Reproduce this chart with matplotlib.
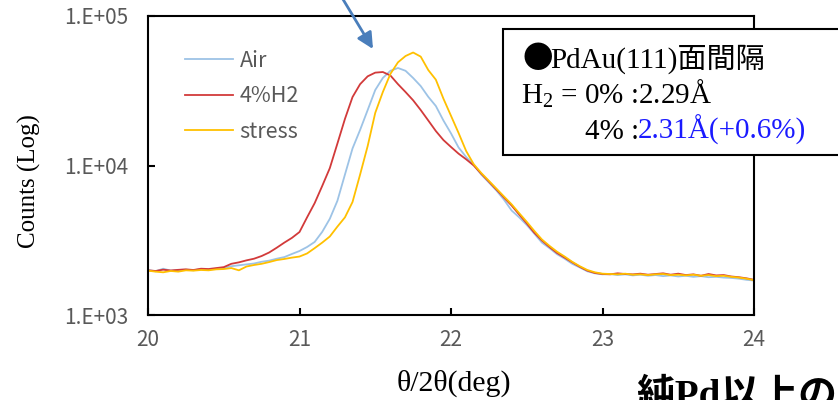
import numpy as np
import matplotlib
matplotlib.use("Agg")
import matplotlib.pyplot as plt
from matplotlib.patches import Rectangle

# ---------------- data ----------------
theta = np.round(np.arange(20.0, 24.0001, 0.05), 2)

air = [2000, 1960, 2040, 1980, 2000, 2010, 1990, 2030, 2010, 2040,
       2060, 2120, 2150, 2180, 2210, 2270, 2310, 2380, 2440, 2560,
       2680, 2850, 3080, 3600, 4400, 5800, 8700, 13000, 17300, 23500,
       32000, 38500, 43000, 44900, 43000, 38500, 34000, 28800, 25000, 20000,
       16400, 13200, 11400, 10100, 8700, 7700, 6800, 5900, 5000, 4500,
       4000, 3500, 3050, 2800, 2550, 2380, 2200, 2080, 1960, 1900,
       1870, 1880, 1850, 1870, 1840, 1860, 1830, 1850, 1820, 1840,
       1810, 1830, 1800, 1820, 1790, 1800, 1780, 1770, 1750, 1720,
       1700]

h2_4 = [1990, 1970, 2010, 1985, 2005, 2020, 2000, 2040, 2030, 2060,
        2090, 2200, 2250, 2320, 2380, 2480, 2620, 2820, 3050, 3280,
        3590, 4500, 5600, 7300, 9600, 14000, 20500, 28700, 35000, 39500,
        41800, 42200, 40000, 35000, 31000, 27300, 23500, 20000, 17000, 14800,
        13300, 12000, 11000, 10000, 8800, 7800, 6900, 6100, 5400, 4700,
        4100, 3550, 3150, 2850, 2600, 2420, 2250, 2100, 1980, 1910,
        1880, 1870, 1900, 1880, 1870, 1890, 1860, 1880, 1900, 1860,
        1890, 1850, 1870, 1830, 1880, 1840, 1850, 1810, 1790, 1760,
        1720]

stress = [1980, 1950, 1930, 1970, 1950, 1990, 1980, 2000, 1990, 2020,
          2030, 2060, 1990, 2110, 2160, 2200, 2260, 2330, 2370, 2420,
          2460, 2580, 2800, 3050, 3350, 3900, 4500, 5700, 8700, 13500,
          22500, 31000, 41000, 49000, 54000, 57000, 53500, 43500, 37500, 28000,
          21500, 16500, 12500, 10200, 8900, 7900, 7000, 6200, 5500, 4800,
          4200, 3650, 3200, 2900, 2650, 2460, 2270, 2120, 2000, 1930,
          1890, 1880, 1870, 1890, 1860, 1870, 1850, 1870, 1880, 1850,
          1860, 1840, 1860, 1830, 1850, 1820, 1830, 1800, 1780, 1750,
          1710]

series_names = ["Air", "4%H2", "stress"]
series_colors = ["#9dc3e6", "#d23a3a", "#ffc000"]

x_ticks = [20, 21, 22, 23, 24]
y_ticks = [1e3, 1e4, 1e5]
y_tick_labels = ["1.E+03", "1.E+04", "1.E+05"]

# ---------------- figure ----------------
W, H = 838, 400
fig = plt.figure(figsize=(W / 100, H / 100), dpi=100)
ax = fig.add_axes([148 / W, 1 - 315 / H, (754 - 148) / W, (315 - 16) / H])

for vals, name, col in zip([air, h2_4, stress], series_names, series_colors):
    ax.plot(theta, vals, color=col, lw=1.3, label=name)

ax.set_yscale("log")
ax.set_xlim(20, 24)
ax.set_ylim(1e3, 1e5)
ax.set_xticks(x_ticks)
ax.set_xticklabels([str(v) for v in x_ticks])
ax.set_yticks(y_ticks)
ax.set_yticklabels(y_tick_labels)
ax.yaxis.set_minor_locator(matplotlib.ticker.NullLocator())

tick_font = ["Noto Sans CJK JP", "DejaVu Sans"]
ax.tick_params(direction="in", length=5, width=1.5, colors="black",
               labelcolor="#595959", labelsize=15)
ax.tick_params(axis="x", pad=10)
ax.tick_params(axis="y", pad=14)
for lab in ax.get_xticklabels() + ax.get_yticklabels():
    lab.set_family(tick_font)

for sp in ax.spines.values():
    sp.set_linewidth(1.5)
    sp.set_color("black")

ax.set_ylabel("Counts (Log)", family="Liberation Serif", fontsize=18, va="center")
ax.yaxis.set_label_coords(-0.195, 0.448)
ax.set_xlabel("θ/2θ(deg)", family="Liberation Serif", fontsize=21.5, va="center")
ax.xaxis.set_label_coords(0.505, -0.227)

leg = ax.legend(loc="upper left", bbox_to_anchor=(185 / W, 1 - 50 / H),
                bbox_transform=fig.transFigure, frameon=False,
                prop={"family": tick_font, "size": 15.5},
                handlelength=2.23, handletextpad=0.3, labelspacing=0.62,
                borderpad=0, borderaxespad=0)
for t in leg.get_texts():
    t.set_color("#595959")

# ---------------- annotation box ----------------
def fx(px):
    return px / W

def fy(py):
    return 1 - py / H

box = Rectangle((fx(503), fy(155)), fx(860) - fx(503), fy(29) - fy(155),
                transform=fig.transFigure, facecolor="white",
                edgecolor="black", lw=1.5, zorder=10, clip_on=False)
fig.patches.append(box)

serif = ["Liberation Serif", "Noto Sans CJK JP"]
fs_box = 21
fig.text(fx(522), fy(68), "●", family=["Noto Sans CJK JP"], fontsize=fs_box + 1,
         color="black", zorder=11, va="baseline")
fig.text(fx(550), fy(68), "PdAu(111)面間隔", family=serif, fontsize=fs_box,
         color="black", zorder=11, va="baseline")
fig.text(fx(521), fy(104), r"$\mathregular{H_2}$ = 0% :2.29Å", family=serif,
         fontsize=fs_box, color="black", zorder=11, va="baseline")
fig.text(fx(585), fy(139), "4% :", family=serif, fontsize=fs_box,
         color="black", zorder=11, va="baseline")
fig.text(fx(638), fy(139), "2.31Å(+0.6%)", family=serif, fontsize=fs_box,
         color="#1a1aff", zorder=11, va="baseline")

# ---------------- arrow ----------------
ax.annotate("", xy=(373, H - 49), xycoords="figure pixels",
            xytext=(341, H + 4), textcoords="figure pixels",
            arrowprops=dict(arrowstyle="-|>", color="#4a7ebb", lw=2,
                            mutation_scale=24, shrinkA=0, shrinkB=0),
            annotation_clip=False)

# ---------------- cut-off bold text at bottom (as in the reference) ----------------
fig.text(fx(636), fy(378), "純Pd以上の", family=serif, fontsize=28,
         fontweight="bold", color="black", va="top", ha="left")

fig.savefig("out.png", dpi=100)
